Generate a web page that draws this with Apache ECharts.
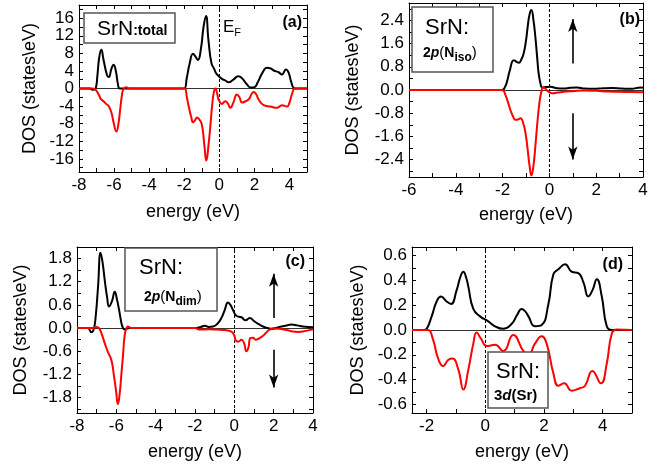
<!DOCTYPE html>
<html><head><meta charset="utf-8">
<script src="https://cdn.jsdelivr.net/npm/echarts@6/dist/echarts.min.js"></script>
<style>html,body{margin:0;padding:0;background:#fff}#c{width:659px;height:466px}</style>
</head><body><div id="c"></div>
<script>
// ---------- data: panel (a) total ----------
const aUpE = [-8,-7.4,-7.2,-7.05,-6.95,-6.85,-6.73,-6.6,-6.4,-6.3,-6.15,-6.03,-5.9,-5.78,-5.68,-5.5,-2.2,-2.0,-1.85,-1.7,-1.5,-1.35,-1.22,-1.05,-0.9,-0.76,-0.62,-0.45,-0.3,-0.13,0.15,0.35,0.53,0.8,1.08,1.3,1.58,1.8,2.0,2.2,2.45,2.72,2.9,3.1,3.38,3.57,3.8,3.95,4.1,4.25,4.4,5];
const aUpV = [0,0,-0.3,0,3,7,8.8,6.5,3,2.6,4.5,5.4,4,1,0,0,0,0,2.5,5.5,7.9,7.2,6.5,9,14,16.5,11,5.8,4.5,3.2,2.2,1.8,1.4,2,2.8,2.3,0.9,0.2,0.3,1.5,3.5,4.7,4.6,4.1,3.7,3.2,4.3,3.6,1.5,0.1,0,0];
const aDnE = [-8,-7.2,-7.05,-6.88,-6.75,-6.6,-6.45,-6.31,-6.15,-6.03,-5.87,-5.75,-5.65,-5.55,-5.45,-5.3,-5.15,-2.2,-1.98,-1.85,-1.75,-1.6,-1.5,-1.38,-1.27,-1.15,-1.0,-0.85,-0.74,-0.62,-0.51,-0.4,-0.3,-0.22,-0.12,-0.04,0.15,0.34,0.5,0.63,0.8,1.0,1.15,1.29,1.5,1.67,1.85,1.96,2.1,2.24,2.53,2.9,3.29,3.57,3.86,4.0,4.14,4.3,4.45,5];
const aDnV = [0,0,-0.3,-1.35,-2.4,-2.9,-3.5,-4.0,-5.5,-7.7,-9.8,-8,-4.7,-1.5,0,0.3,0,0,0,-2,-4,-6.5,-7.7,-7.2,-6.6,-7,-8.1,-13,-16.4,-13,-8.5,-3.5,-0.6,0,-1.2,-2.5,-3.5,-2.9,-3.5,-4.4,-3.2,-1.35,-2.0,-3.2,-2.9,-2.5,-1.2,-0.8,-1.3,-2.5,-3.8,-4.1,-4.4,-3.8,-4.1,-3.2,-1.35,0,0,0];
// ---------- panel (b) 2p(N_iso) ----------
const bUpE = [-6,-2.1,-1.99,-1.9,-1.81,-1.7,-1.52,-1.4,-1.31,-1.2,-1.1,-1.0,-0.93,-0.85,-0.77,-0.68,-0.6,-0.52,-0.46,-0.38,-0.31,-0.15,0.04,0.33,0.6,0.9,1.18,1.5,1.9,2.3,2.7,3.1,3.5,3.9,4];
const bUpV = [0,0,0.01,0.1,0.29,0.65,1.03,0.97,0.94,1.05,1.26,1.7,2.17,2.6,2.76,2.4,1.83,1.1,0.57,0.22,0.09,0.1,0.11,0.06,0.05,0.08,0.09,0.05,0.04,0.06,0.07,0.05,0.04,0.09,0.08];
const bDnE = [-6,-2.1,-1.99,-1.88,-1.78,-1.67,-1.55,-1.45,-1.35,-1.24,-1.1,-1.0,-0.93,-0.85,-0.77,-0.68,-0.6,-0.5,-0.41,-0.34,-0.28,-0.18,-0.1,0.11,0.35,0.61,1.0,1.47,2.0,2.5,3.0,3.5,4];
const bDnV = [0,0,-0.01,-0.17,-0.4,-0.68,-0.92,-1.03,-1.02,-0.97,-1.2,-1.6,-2.05,-2.6,-2.95,-2.6,-1.94,-1.0,-0.34,-0.05,0.09,0.05,-0.02,-0.11,-0.09,-0.06,-0.04,-0.02,-0.03,-0.05,-0.06,-0.07,-0.08];
// ---------- panel (c) 2p(N_dim) ----------
const cUpE = [-8,-7.45,-7.27,-7.15,-7.05,-6.93,-6.8,-6.7,-6.59,-6.47,-6.37,-6.22,-6.08,-5.97,-5.86,-5.75,-5.69,-5.58,-5.45,-5.32,-2,-1.7,-1.5,-1.3,-1.08,-0.85,-0.66,-0.5,-0.32,-0.2,-0.07,0.1,0.36,0.58,0.78,1.03,1.25,1.46,1.7,1.88,2.3,2.6,2.9,3.2,3.49,4];
const cUpV = [0,0,-0.11,-0.03,0.3,1.07,1.95,1.7,1.24,0.8,0.56,0.7,0.94,0.75,0.47,0.15,0.04,-0.04,-0.01,0,0,0.03,0.06,0.03,0.04,0.12,0.26,0.45,0.66,0.6,0.47,0.32,0.28,0.2,0.26,0.17,0.1,0.04,0.0,-0.02,0.03,0.06,0.09,0.07,0.04,0.02];
const cDnE = [-8,-7.2,-7.0,-6.88,-6.76,-6.59,-6.42,-6.29,-6.2,-6.12,-6.02,-5.92,-5.83,-5.75,-5.66,-5.58,-5.5,-5.41,-5.24,-2,-1.76,-1.3,-0.92,-0.5,-0.15,0.0,0.1,0.22,0.36,0.5,0.61,0.72,0.81,0.95,1.08,1.25,1.46,1.65,1.8,2.0,2.3,2.65,2.98,3.25,3.49,3.75,4];
const cDnV = [0,0,0.03,0.0,-0.13,-0.39,-0.63,-0.77,-0.95,-1.24,-1.6,-1.97,-1.7,-1.24,-0.7,-0.21,-0.02,0.04,0,0,-0.04,-0.03,-0.04,-0.05,-0.09,-0.2,-0.34,-0.35,-0.3,-0.4,-0.6,-0.5,-0.26,-0.25,-0.3,-0.27,-0.2,-0.1,-0.04,-0.01,-0.02,-0.05,-0.09,-0.1,-0.09,-0.06,-0.03];
// ---------- panel (d) 3d(Sr) ----------
const dUpE = [-2.5,-2.1,-2.0,-1.83,-1.66,-1.51,-1.32,-1.17,-0.98,-0.85,-0.75,-0.65,-0.58,-0.41,-0.18,0.1,0.33,0.61,0.9,1.08,1.24,1.36,1.47,1.69,1.92,2.15,2.32,2.49,2.72,2.95,3.17,3.35,3.51,3.65,3.8,3.97,4.14,4.31,4.5,5];
const dUpV = [0,0,0.01,0.11,0.23,0.27,0.23,0.21,0.32,0.43,0.47,0.42,0.35,0.17,0.11,0.07,0.03,0.01,0.05,0.12,0.17,0.15,0.11,0.03,0.04,0.21,0.45,0.49,0.53,0.47,0.46,0.38,0.27,0.32,0.41,0.27,0.03,0,0,0];
const dDnE = [-2.5,-2.1,-1.95,-1.78,-1.61,-1.44,-1.26,-1.12,-0.92,-0.75,-0.58,-0.41,-0.3,-0.15,0.05,0.33,0.61,0.95,1.3,1.47,1.69,1.92,2.09,2.32,2.49,2.69,2.94,3.22,3.4,3.65,3.94,4.14,4.31,4.48,5];
const dDnV = [0,0,0,-0.08,-0.23,-0.29,-0.24,-0.23,-0.32,-0.48,-0.32,-0.11,-0.02,-0.07,-0.13,-0.12,-0.17,-0.04,-0.17,-0.2,-0.11,-0.05,-0.11,-0.35,-0.45,-0.43,-0.49,-0.47,-0.45,-0.33,-0.43,-0.27,-0.03,0.005,0];

// ---------- tick labels / tick positions ----------
const aXLabels = [-8,-6,-4,-2,0,2,4];
const aXTicks  = [-8,-7,-6,-5,-4,-3,-2,-1,0,1,2,3,4,5];
const aYLabels = [-16,-12,-8,-4,0,4,8,12,16];
const aYTicks  = [-18,-16,-14,-12,-10,-8,-6,-4,-2,0,2,4,6,8,10,12,14,16,18];
const bXLabels = [-6,-4,-2,0,2,4];
const bXTicks  = [-6,-5,-4,-3,-2,-1,0,1,2,3,4];
const bYLabels = [-2.4,-1.6,-0.8,0,0.8,1.6,2.4];
const bYTicks  = [-2.8,-2.4,-2.0,-1.6,-1.2,-0.8,-0.4,0,0.4,0.8,1.2,1.6,2.0,2.4,2.8];
const cXLabels = [-8,-6,-4,-2,0,2,4];
const cXTicks  = [-8,-7,-6,-5,-4,-3,-2,-1,0,1,2,3,4];
const cYLabels = [-1.8,-1.2,-0.6,0,0.6,1.2,1.8];
const cYTicks  = [-2.1,-1.8,-1.5,-1.2,-0.9,-0.6,-0.3,0,0.3,0.6,0.9,1.2,1.5,1.8,2.1];
const dXLabels = [-2,0,2,4];
const dXTicks  = [-2,-1,0,1,2,3,4,5];
const dYLabels = [-0.6,-0.4,-0.2,0,0.2,0.4,0.6];
const dYTicks  = [-0.6,-0.5,-0.4,-0.3,-0.2,-0.1,0,0.1,0.2,0.3,0.4,0.5,0.6];

const FONT = '"Liberation Sans", Arial, Helvetica, sans-serif';
const zip = (e, v) => e.map((x, i) => [x, v[i]]);

const panels = [
  {grid:{left:79, top:5, width:228, height:167}, x:[-8,5], y:[-19,19], xl:aXLabels, xt:aXTicks, yl:aYLabels, yt:aYTicks, dec:0, xGap:31, yGap:40,
   up:zip(aUpE,aUpV), dn:zip(aDnE,aDnV), arrows:null},
  {grid:{left:409, top:3, width:234, height:174}, x:[-6,4], y:[-3,3], xl:bXLabels, xt:bXTicks, yl:bYLabels, yt:bYTicks, dec:1, xGap:29, yGap:47,
   up:zip(bUpE,bUpV), dn:zip(bDnE,bDnV), arrows:[[1,0.91,1,2.45],[1,-0.8,1,-2.4]]},
  {grid:{left:77, top:247, width:236, height:166}, x:[-8,4], y:[-2.2,2.1], xl:cXLabels, xt:cXTicks, yl:cYLabels, yt:cYTicks, dec:1, xGap:30, yGap:47,
   up:zip(cUpE,cUpV), dn:zip(cDnE,cDnV), arrows:[[2,0.26,2,1.41],[2,-0.56,2,-1.54]]},
  {grid:{left:412, top:247, width:220, height:166}, x:[-2.5,5], y:[-0.67,0.67], xl:dXLabels, xt:dXTicks, yl:dYLabels, yt:dYTicks, dec:1, xGap:30, yGap:45,
   up:zip(dUpE,dUpV), dn:zip(dDnE,dDnV), arrows:null}
];

const grids = [], xAxes = [], yAxes = [], series = [];
const line = {show:true, onZero:false, lineStyle:{color:'#000', width:1}};
panels.forEach((p, i) => {
  grids.push(p.grid);
  const tick = vals => ({show:true, inside:true, length:4, customValues:vals, lineStyle:{color:'#000', width:1}});
  const fmt = d => v => Number(v).toFixed(d);
  xAxes.push({type:'value', gridIndex:i, min:p.x[0], max:p.x[1], position:'bottom', axisLine:line, axisTick:tick(p.xt),
    axisLabel:{customValues:p.xl, formatter:fmt(0), fontSize:17, color:'#000', fontFamily:FONT, margin:5},
    splitLine:{show:false}, name:'energy (eV)', nameLocation:'middle', nameGap:p.xGap,
    nameTextStyle:{fontSize:18, color:'#000', fontFamily:FONT}});
  xAxes.push({type:'value', gridIndex:i, min:p.x[0], max:p.x[1], position:'top', axisLine:line, axisTick:tick(p.xt),
    axisLabel:{show:false}, splitLine:{show:false}});
  yAxes.push({type:'value', gridIndex:i, min:p.y[0], max:p.y[1], position:'left', axisLine:line, axisTick:tick(p.yt),
    axisLabel:{customValues:p.yl, formatter:fmt(p.dec), fontSize:17, color:'#000', fontFamily:FONT, margin:5},
    splitLine:{show:false}, name:'DOS (states\\eV)', nameLocation:'middle', nameGap:p.yGap,
    nameTextStyle:{fontSize:18, color:'#000', fontFamily:FONT}});
  yAxes.push({type:'value', gridIndex:i, min:p.y[0], max:p.y[1], position:'right', axisLine:line, axisTick:tick(p.yt),
    axisLabel:{show:false}, splitLine:{show:false}});
  const mlData = [
    {yAxis:0, lineStyle:{color:'#333', width:1, type:'solid'}},
    {xAxis:0, lineStyle:{color:'#000', width:1, type:[3,2]}}
  ];
  if (p.arrows) p.arrows.forEach(a => mlData.push([{coord:[a[0],a[1]], symbol:'none'},{coord:[a[2],a[3]], symbol:'arrow', symbolSize:[7,13]}]));
  series.push({type:'line', xAxisIndex:2*i, yAxisIndex:2*i, data:p.up, showSymbol:false, smooth:0.5,
    lineStyle:{color:'#000', width:2}, itemStyle:{color:'#000'}, z:3,
    markLine:{silent:true, symbol:'none', label:{show:false}, data:mlData, lineStyle:{color:'#000', width:1.6, type:'solid'}, z:2}});
  series.push({type:'line', xAxisIndex:2*i, yAxisIndex:2*i, data:p.dn, showSymbol:false, smooth:0.5,
    lineStyle:{color:'#ff0000', width:2}, itemStyle:{color:'#ff0000'}, z:4});
});

const boxStyle = {fill:'#fff', stroke:'#555', lineWidth:1.5};
const graphic = [
  {type:'rect', shape:{x:84, y:13, width:91, height:30}, style:boxStyle, z:100},
  {type:'text', x:97, y:29, z:101, style:{text:'{a|SrN}{b|:total}', verticalAlign:'middle', fontFamily:FONT,
    rich:{a:{fontSize:21, fontFamily:FONT, fill:'#000'}, b:{fontSize:14, fontWeight:'bold', fontFamily:FONT, fill:'#000', padding:[5,0,0,0]}}}},
  {type:'text', x:302, y:23, z:101, style:{text:'(a)', align:'right', verticalAlign:'middle', fontSize:16, fontWeight:'bold', fontFamily:FONT, fill:'#000'}},
  {type:'text', x:223, y:27, z:101, style:{text:'{e|E}{f|F}', verticalAlign:'middle', fontFamily:FONT,
    rich:{e:{fontSize:17, fontFamily:FONT, fill:'#000'}, f:{fontSize:11, fontFamily:FONT, fill:'#000', padding:[12,0,0,0]}}}},

  {type:'rect', shape:{x:412, y:7, width:81, height:65}, style:boxStyle, z:100},
  {type:'text', x:425, y:28, z:101, style:{text:'SrN:', verticalAlign:'middle', fontSize:22, fontFamily:FONT, fill:'#000'}},
  {type:'text', x:423, y:53, z:101, style:{text:'{n|2}{i|p}{r|(}{n|N}{s|iso}{r|)}', verticalAlign:'middle', fontFamily:FONT,
    rich:{n:{fontSize:14, fontWeight:'bold', fontFamily:FONT, fill:'#000'}, i:{fontSize:14, fontWeight:'bold', fontStyle:'italic', fontFamily:FONT, fill:'#000'},
          r:{fontSize:15, fontFamily:FONT, fill:'#000'}, s:{fontSize:12, fontWeight:'bold', fontFamily:FONT, fill:'#000', padding:[9,0,0,0]}}}},
  {type:'text', x:640, y:20, z:101, style:{text:'(b)', align:'right', verticalAlign:'middle', fontSize:16, fontWeight:'bold', fontFamily:FONT, fill:'#000'}},

  {type:'rect', shape:{x:125, y:248, width:92, height:63}, style:boxStyle, z:100},
  {type:'text', x:139, y:268, z:101, style:{text:'SrN:', verticalAlign:'middle', fontSize:22, fontFamily:FONT, fill:'#000'}},
  {type:'text', x:144, y:297, z:101, style:{text:'{n|2}{i|p}{r|(}{n|N}{s|dim}{r|)}', verticalAlign:'middle', fontFamily:FONT,
    rich:{n:{fontSize:14, fontWeight:'bold', fontFamily:FONT, fill:'#000'}, i:{fontSize:14, fontWeight:'bold', fontStyle:'italic', fontFamily:FONT, fill:'#000'},
          r:{fontSize:15, fontFamily:FONT, fill:'#000'}, s:{fontSize:12, fontWeight:'bold', fontFamily:FONT, fill:'#000', padding:[9,0,0,0]}}}},
  {type:'text', x:305, y:262, z:101, style:{text:'(c)', align:'right', verticalAlign:'middle', fontSize:16, fontWeight:'bold', fontFamily:FONT, fill:'#000'}},

  {type:'rect', shape:{x:488, y:352, width:60, height:56}, style:boxStyle, z:100},
  {type:'text', x:496, y:372, z:101, style:{text:'SrN:', verticalAlign:'middle', fontSize:22, fontFamily:FONT, fill:'#000'}},
  {type:'text', x:494, y:396, z:101, style:{text:'{n|3}{i|d}{n|(Sr)}', verticalAlign:'middle', fontFamily:FONT,
    rich:{n:{fontSize:15, fontWeight:'bold', fontFamily:FONT, fill:'#000'}, i:{fontSize:15, fontWeight:'bold', fontStyle:'italic', fontFamily:FONT, fill:'#000'}}}},
  {type:'text', x:623, y:265, z:101, style:{text:'(d)', align:'right', verticalAlign:'middle', fontSize:16, fontWeight:'bold', fontFamily:FONT, fill:'#000'}}
];

const chart = echarts.init(document.getElementById('c'), null, {renderer:'canvas'});
chart.setOption({animation:false, backgroundColor:'#fff', grid:grids, xAxis:xAxes, yAxis:yAxes, series:series, graphic:graphic});
</script></body></html>
